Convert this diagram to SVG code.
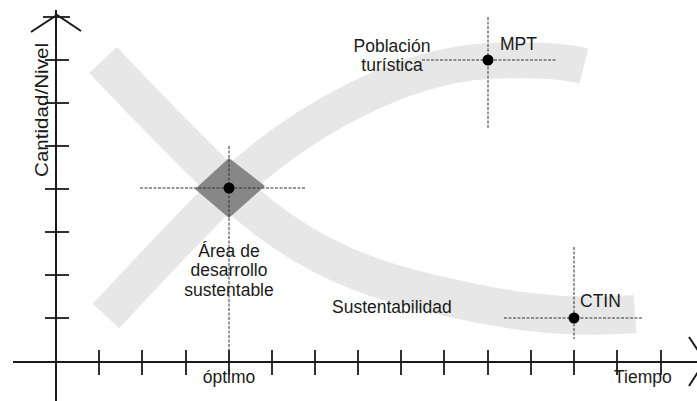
<svg xmlns="http://www.w3.org/2000/svg" width="697" height="401" viewBox="0 0 697 401">
<style>
.band{fill:none;stroke:#e7e7e7;stroke-width:38;stroke-linecap:butt}
.axis{stroke:#1a1a1a;stroke-width:2;fill:none}
.tick{stroke:#1a1a1a;stroke-width:1.8}
.guide{stroke:#333;stroke-width:1;stroke-dasharray:3 1.5;fill:none}
.t{font-family:"Liberation Sans",Arial,sans-serif;font-size:17.5px;fill:#1a1a1a}
.dot{fill:#000}
</style>
<rect width="697" height="401" fill="#fff"/>
<g id="bands">
<path id="band-poblacion" class="band" style="stroke-width:36" d="M106,316 C160,258 200,215 229,188 C300,122 400,66 488,61 C530,59 560,60 584,66"/>
<path id="band-sustentabilidad" class="band" d="M103,60 C150,110 190,150 229,188 C290,245 350,275 430,293 C500,310 560,320 635,314"/>
</g>
<g id="area-desarrollo">
<polygon points="229,158 265,186 229,218 195,189" fill="#878787"/>
</g>
<g id="axes">
<line class="axis" x1="56" y1="10" x2="56" y2="401"/>
<polyline class="axis" points="31,32 57,15 81,31"/>
<line class="tick" x1="43" y1="17" x2="70" y2="17"/>
<line class="axis" x1="13" y1="362" x2="697" y2="362"/>
<polyline class="axis" points="689,337 705,361 689,386"/>
<g id="yticks">
<line class="tick" x1="45" y1="60" x2="69" y2="60"/>
<line class="tick" x1="45" y1="103" x2="69" y2="103"/>
<line class="tick" x1="45" y1="146" x2="69" y2="146"/>
<line class="tick" x1="45" y1="189" x2="69" y2="189"/>
<line class="tick" x1="45" y1="232" x2="69" y2="232"/>
<line class="tick" x1="45" y1="275" x2="69" y2="275"/>
<line class="tick" x1="45" y1="318" x2="69" y2="318"/>
</g>
<g id="xticks">
<line class="tick" x1="99" y1="350" x2="99" y2="375"/>
<line class="tick" x1="142" y1="350" x2="142" y2="375"/>
<line class="tick" x1="186" y1="350" x2="186" y2="375"/>
<line class="tick" x1="229" y1="350" x2="229" y2="375"/>
<line class="tick" x1="272" y1="350" x2="272" y2="375"/>
<line class="tick" x1="315" y1="350" x2="315" y2="375"/>
<line class="tick" x1="358" y1="350" x2="358" y2="375"/>
<line class="tick" x1="401" y1="350" x2="401" y2="375"/>
<line class="tick" x1="444" y1="350" x2="444" y2="375"/>
<line class="tick" x1="488" y1="350" x2="488" y2="375"/>
<line class="tick" x1="531" y1="350" x2="531" y2="375"/>
<line class="tick" x1="574" y1="350" x2="574" y2="375"/>
<line class="tick" x1="617" y1="350" x2="617" y2="375"/>
<line class="tick" x1="661" y1="350" x2="661" y2="375"/>
</g>
</g>
<g id="connectors">
<line class="guide" x1="140" y1="188" x2="306" y2="188"/>
<line class="guide" x1="229" y1="146" x2="229" y2="362"/>
<line class="guide" x1="422" y1="60" x2="556" y2="60"/>
<line class="guide" x1="488" y1="17" x2="488" y2="128"/>
<line class="guide" x1="504" y1="318" x2="643" y2="318"/>
<line class="guide" x1="574" y1="247" x2="574" y2="339"/>
</g>
<g id="optimo">
<circle class="dot" cx="229" cy="188" r="5.5"/>
</g>
<g id="mpt">
<circle class="dot" cx="488" cy="60" r="5.5"/>
<text class="t" x="500" y="50">MPT</text>
</g>
<g id="ctin">
<circle class="dot" cx="574" cy="318" r="5.5"/>
<text class="t" x="580" y="307">CTIN</text>
</g>
<g id="labels">
<text class="t" x="392" y="52" text-anchor="middle">Población</text>
<text class="t" x="392" y="71" text-anchor="middle">turística</text>
<text class="t" x="229" y="257" text-anchor="middle">Área de</text>
<text class="t" x="229" y="276" text-anchor="middle">desarrollo</text>
<text class="t" x="229" y="296" text-anchor="middle">sustentable</text>
<text class="t" x="332" y="313">Sustentabilidad</text>
<text class="t" x="229" y="383" text-anchor="middle">óptimo</text>
<text class="t" x="614" y="383">Tiempo</text>
<text class="t" x="48" y="110" text-anchor="middle" transform="rotate(-90 48 110)" textLength="134" lengthAdjust="spacingAndGlyphs" style="font-size:19px">Cantidad/Nivel</text>
</g>
</svg>
